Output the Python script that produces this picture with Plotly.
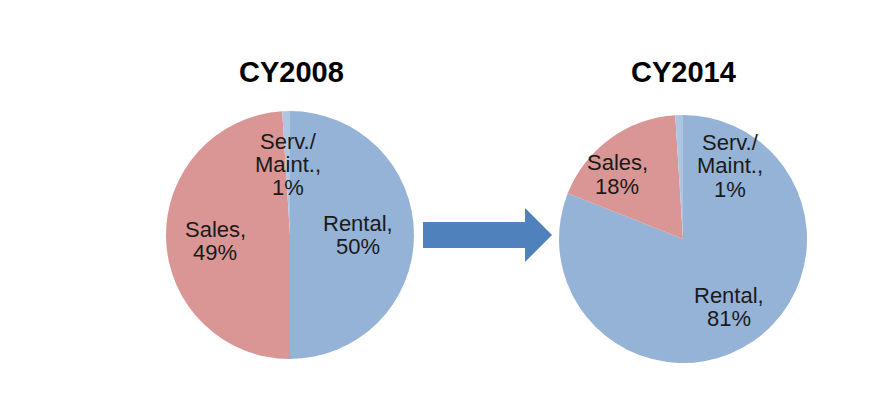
import plotly.graph_objects as go

categories = ["Rental", "Sales", "Serv./Maint."]
values_2008 = [50, 49, 1]
values_2014 = [81, 18, 1]
years = ["CY2008", "CY2014"]
colors = ["#95B3D7", "#D99694", "#AFC6E3"]

W, H = 870, 400
OX, OY = 8, 8  # page body offset


def px(x):
    return (x - OX) / W


def py(y):
    return 1 - (y - OY) / H


fig = go.Figure()
domains = [
    dict(x=[px(290 - 124), px(290 + 124)], y=[py(359), py(111)]),
    dict(x=[px(683 - 124), px(683 + 124)], y=[py(363), py(115)]),
]
for vals, dom in zip([values_2008, values_2014], domains):
    fig.add_trace(go.Pie(
        labels=categories, values=vals, sort=False, direction="clockwise",
        rotation=0, marker=dict(colors=colors, line=dict(width=0)),
        textinfo="none", hoverinfo="label+percent", domain=dom, showlegend=False,
    ))

lab_font = dict(family="Liberation Sans, Arial, sans-serif", size=22, color="#1a1a1a")
labels = [
    (["Serv./", "Maint.,", "1%"], 288, 141),
    (["Sales,", "49%"], 215, 229),
    (["Rental,", "50%"], 358, 223),
    (["Sales,", "18%"], 617, 163),
    (["Serv./", "Maint.,", "1%"], 730, 142),
    (["Rental,", "81%"], 729, 295),
]
LS = 23.5
annotations = []
for lines, x0, y0 in labels:
    for i, t in enumerate(lines):
        annotations.append(dict(text=t, x=px(x0), y=py(y0 + i * LS), xref="paper", yref="paper",
                                xanchor="center", yanchor="middle", showarrow=False,
                                font=lab_font))
for yr, x0 in zip(years, [291, 683]):
    annotations.append(dict(text="<b>%s</b>" % yr, x=px(x0), y=py(72), xref="paper", yref="paper",
                            xanchor="center", yanchor="middle", showarrow=False,
                            font=dict(family="Liberation Sans, Arial, sans-serif", size=29, color="black")))


def P(x, y):
    return "%.4f,%.4f" % (px(x), py(y))


arrow_path = "M " + " L ".join([P(423, 222), P(525, 222), P(525, 208), P(552, 235),
                                P(525, 262), P(525, 248), P(423, 248)]) + " Z"

fig.update_layout(
    width=W, height=H, margin=dict(l=0, r=0, t=0, b=0),
    paper_bgcolor="white", plot_bgcolor="white",
    annotations=annotations,
    shapes=[dict(type="path", path=arrow_path, xref="paper", yref="paper",
                 fillcolor="#4F81BD", line=dict(width=0))],
)
fig.write_html("out.html")
